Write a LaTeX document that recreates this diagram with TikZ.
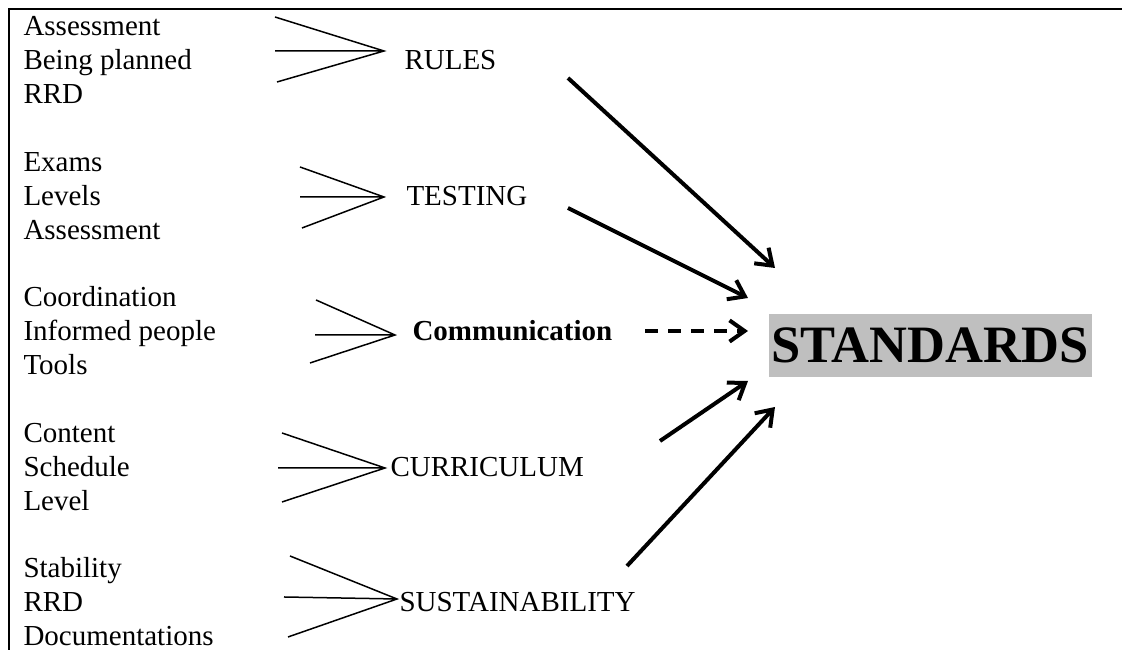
\documentclass[tikz,border=0pt]{standalone}
\usepackage{fontspec}
\setmainfont{Liberation Serif}
\usetikzlibrary{arrows.meta}
\tikzset{
  items/.style={anchor=base west, align=left, inner sep=0pt, font=\fontsize{11.6}{13.56}\selectfont},
  topic/.style={anchor=base west, inner sep=0pt, font=\fontsize{11.6}{13.56}\selectfont},
  fan/.style={line width=0.6pt},
  feed/.style={line width=1.6pt, -{Straight Barb[length=6pt,width=8.5pt]}},
}
\begin{document}
\begin{tikzpicture}[x=0.4pt,y=-0.4pt]
        \useasboundingbox (0,0) rectangle (1122,650);
        % frame
        \draw[line width=1.1pt] (9,650) -- (9,9) -- (1122,9);
        % inputs (base = last line)
        \node[items] (rulesitems) at (23,103.8) {Assessment\\Being planned\\RRD};
        \node[items] (testitems) at (23,239.3) {Exams\\Levels\\Assessment};
        \node[items] (commitems) at (23,374.8) {Coordination\\Informed people\\Tools};
        \node[items] (curritems) at (23,510.3) {Content\\Schedule\\Level};
        \node[items] (sustitems) at (23,645.8) {Stability\\RRD\\Documentations};
        % topics
        \node[topic] (rules) at (404,70) {RULES};
        \node[topic] (testing) at (406,205.5) {TESTING};
        \node[topic,font=\fontsize{11.6}{13.56}\selectfont\bfseries] (comm) at (412,341) {Communication};
        \node[topic] (curr) at (390,476.5) {CURRICULUM};
        \node[topic] (sust) at (399,612) {SUSTAINABILITY};
        \node[fill=black!25, inner xsep=1.2pt, inner ysep=0pt, minimum height=25.2pt,
              font=\fontsize{21}{25}\selectfont\bfseries] (std) at (930,345.5) {STANDARDS};
        % fans
        \coordinate (rulestip) at (384,51);
        \coordinate (testtip) at (384,197);
        \coordinate (commtip) at (395,335);
        \coordinate (currtip) at (385,468);
        \coordinate (susttip) at (397,599);
        \draw[fan] (275,17) -- (rulestip) -- (277,82) (275,51) -- (rulestip);
        \draw[fan] (300,167) -- (testtip) -- (302,228) (300,197) -- (testtip);
        \draw[fan] (316,300) -- (commtip) -- (310,363) (315,335) -- (commtip);
        \draw[fan] (282,433) -- (currtip) -- (282,502) (278,468) -- (currtip);
        \draw[fan] (290,556) -- (susttip) -- (288,637) (284,597) -- (susttip);
        % arrows
        \coordinate (rulesout) at (568,78);
        \coordinate (rulesin) at (775,268);
        \coordinate (testout) at (568,208);
        \coordinate (testin) at (748,298);
        \coordinate (commout) at (645,331);
        \coordinate (commin) at (748,331);
        \coordinate (currout) at (660,441);
        \coordinate (currin) at (748,381);
        \coordinate (sustout) at (627,566);
        \coordinate (sustin) at (775,407);
        \draw[feed] (rulesout) -- (rulesin);
        \draw[feed] (testout) -- (testin);
        \draw[feed, dash pattern=on 5.2pt off 4pt] (commout) -- (commin);
        \draw[feed] (currout) -- (currin);
        \draw[feed] (sustout) -- (sustin);
\end{tikzpicture}
\end{document}
